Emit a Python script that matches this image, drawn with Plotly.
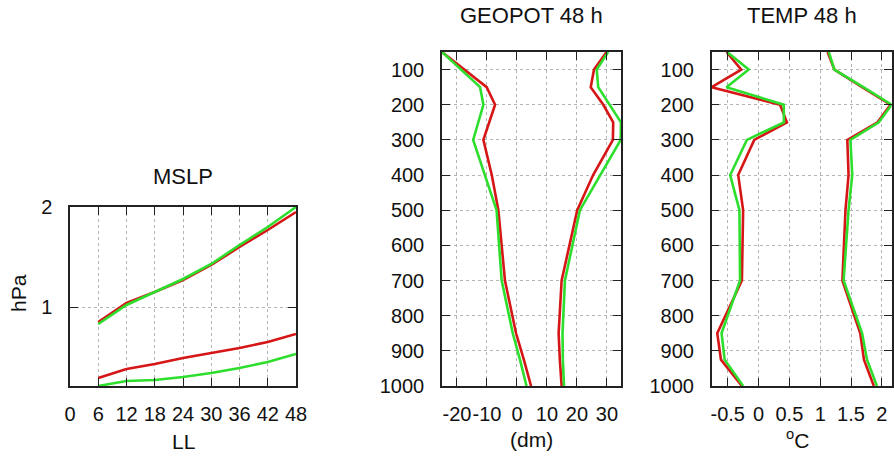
import plotly.graph_objects as go

# ---- MSLP scores vs lead time ----
lead_hours = [6, 12, 18, 24, 30, 36, 42, 48]
mslp_rms_red = [0.85, 1.04, 1.15, 1.27, 1.42, 1.60, 1.77, 1.95]
mslp_rms_green = [0.83, 1.02, 1.15, 1.28, 1.43, 1.62, 1.80, 2.00]
mslp_bias_red = [0.29, 0.38, 0.43, 0.49, 0.54, 0.59, 0.65, 0.73]
mslp_bias_green = [0.21, 0.26, 0.27, 0.30, 0.34, 0.39, 0.45, 0.53]

# ---- vertical profiles at 48 h ----
levels = [50, 100, 150, 200, 250, 300, 400, 500, 700, 850, 925, 1000]

geo_bias_red = [-25.0, -17.5, -10.1, -7.3, -9.3, -11.2, -8.4, -6.2, -4.0, -0.3, 2.3, 4.7]
geo_bias_green = [-25.0, -18.5, -12.3, -11.2, -12.9, -14.6, -10.7, -6.8, -5.1, -1.4, 1.0, 3.2]
geo_rms_red = [29.9, 25.7, 24.6, 28.8, 32.1, 32.0, 25.4, 20.1, 14.9, 13.9, 14.3, 14.9]
geo_rms_green = [30.4, 26.6, 27.1, 31.0, 34.7, 34.6, 27.7, 21.0, 16.0, 15.2, 15.3, 15.7]

temp_bias_red = [-0.52, -0.28, -0.76, 0.35, 0.46, -0.07, -0.33, -0.25, -0.27, -0.67, -0.61, -0.27]
temp_bias_green = [-0.51, -0.16, -0.52, 0.41, 0.41, -0.19, -0.46, -0.31, -0.30, -0.60, -0.55, -0.25]
temp_rms_red = [1.12, 1.23, 1.68, 2.14, 1.93, 1.44, 1.46, 1.41, 1.36, 1.65, 1.71, 1.87]
temp_rms_green = [1.14, 1.23, 1.70, 2.16, 1.95, 1.49, 1.52, 1.46, 1.38, 1.68, 1.76, 1.92]

mslp_xticks = [0, 6, 12, 18, 24, 30, 36, 42, 48]
mslp_yticks = [1, 2]
level_ticks = [100, 200, 300, 400, 500, 600, 700, 800, 900, 1000]
geo_ticks = [-20, -10, 0, 10, 20, 30]
geo_ticklabels = ["-20", "-10", "0", "10", "20", "30"]
temp_ticks = [-0.5, 0, 0.5, 1, 1.5, 2]
temp_ticklabels = ["-0.5", "0", "0.5", "1", "1.5", "2"]

RED = "rgb(214,22,22)"
GREEN = "rgb(45,222,45)"
FONT = "Liberation Sans, Arial, Helvetica, sans-serif"
W, H = 894, 460


def px_x(v):
    return v / W


def px_y(v):
    return 1 - v / H


fig = go.Figure()


def add_line(x, y, color, xa, ya):
    fig.add_trace(go.Scatter(x=x, y=y, mode="lines", xaxis=xa, yaxis=ya,
                             line=dict(color=color, width=2.6),
                             showlegend=False, hoverinfo="skip"))


# MSLP panel
add_line(lead_hours, mslp_rms_red, RED, "x", "y")
add_line(lead_hours, mslp_bias_red, RED, "x", "y")
add_line(lead_hours, mslp_rms_green, GREEN, "x", "y")
add_line(lead_hours, mslp_bias_green, GREEN, "x", "y")

# Geopotential profile panel
add_line(geo_bias_red, levels, RED, "x2", "y2")
add_line(geo_rms_red, levels, RED, "x2", "y2")
add_line(geo_bias_green, levels, GREEN, "x2", "y2")
add_line(geo_rms_green, levels, GREEN, "x2", "y2")

# Temperature profile panel
add_line(temp_bias_red, levels, RED, "x3", "y3")
add_line(temp_rms_red, levels, RED, "x3", "y3")
add_line(temp_bias_green, levels, GREEN, "x3", "y3")
add_line(temp_rms_green, levels, GREEN, "x3", "y3")

# ranges fitted to the data extents
mslp_vals = mslp_rms_red + mslp_rms_green + mslp_bias_red + mslp_bias_green
geo_vals = geo_bias_red + geo_bias_green + geo_rms_red + geo_rms_green
temp_vals = temp_bias_red + temp_bias_green + temp_rms_red + temp_rms_green

axis_common = dict(
    showline=True, linecolor="#222222", linewidth=1.5, mirror="ticks",
    ticks="inside", ticklen=8, tickwidth=1.3, tickcolor="#222222",
    showgrid=True, gridcolor="#b4b4b4", griddash="dot", gridwidth=1,
    zeroline=False, tickfont=dict(family=FONT, size=20, color="#111111"),
    fixedrange=True, automargin=False, tickangle=0,
)

fig.update_layout(
    width=W, height=H, margin=dict(l=0, r=0, t=0, b=0),
    paper_bgcolor="white", plot_bgcolor="white", showlegend=False,
    xaxis=dict(axis_common, domain=[px_x(70), px_x(296)], range=[0, 48],
               tickvals=mslp_xticks, anchor="y", ticklabelstandoff=9),
    yaxis=dict(axis_common, domain=[px_y(386), px_y(207)],
               range=[min(mslp_vals), max(mslp_vals)],
               tickvals=mslp_yticks, anchor="x", ticklabelstandoff=12),
    xaxis2=dict(axis_common, domain=[px_x(442), px_x(621)],
                range=[min(geo_vals), max(geo_vals)],
                tickvals=geo_ticks, ticktext=geo_ticklabels, anchor="y2",
                ticklabelstandoff=9),
    yaxis2=dict(axis_common, domain=[px_y(386), px_y(52)],
                range=[1000, 50], tickvals=level_ticks, anchor="x2",
                ticklabelstandoff=12),
    xaxis3=dict(axis_common, domain=[px_x(711.7), px_x(891.7)],
                range=[min(temp_vals), max(temp_vals)],
                tickvals=temp_ticks, ticktext=temp_ticklabels, anchor="y3",
                ticklabelstandoff=9),
    yaxis3=dict(axis_common, domain=[px_y(386), px_y(52)],
                range=[1000, 50], tickvals=level_ticks, anchor="x3",
                ticklabelstandoff=12),
)

labels = [
    ("MSLP", 183, 176, 22, 0),
    ("GEOPOT 48 h", 531, 15, 22, 0),
    ("TEMP 48 h", 802, 15, 22, 0),
    ("LL", 183, 441, 21, 0),
    ("(dm)", 531, 439, 21, 0),
    ("<sup>o</sup>C", 797, 439, 21, 0),
    ("hPa", 18, 293, 21, -90),
]
for text, x, y, size, angle in labels:
    fig.add_annotation(text=text, x=px_x(x), y=px_y(y), xref="paper", yref="paper",
                       showarrow=False, xanchor="center", yanchor="middle",
                       textangle=angle,
                       font=dict(family=FONT, size=size, color="#111111"))

fig.write_html("out.html")
